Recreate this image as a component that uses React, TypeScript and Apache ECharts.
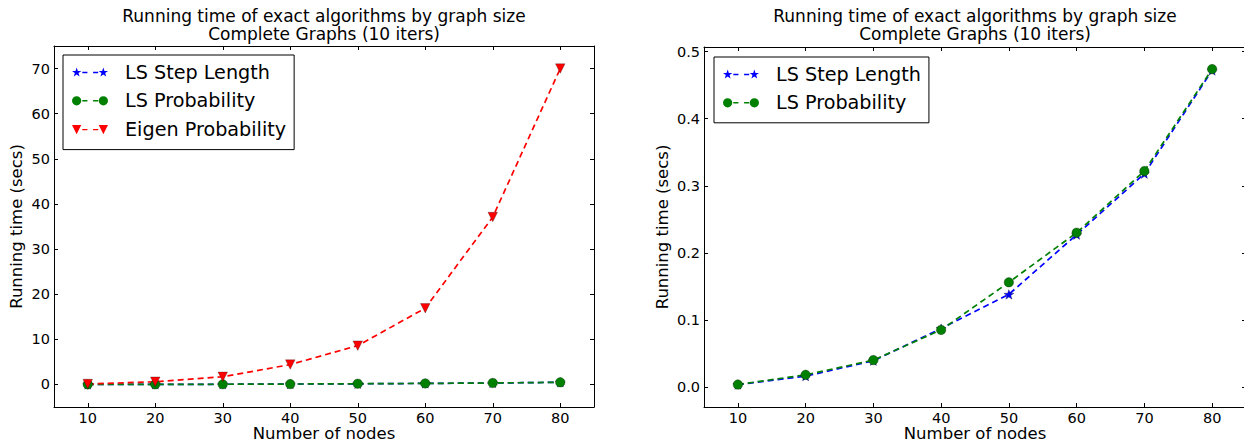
import { useEffect, useRef } from "react";
import * as echarts from "echarts";

const nodes = [10, 20, 30, 40, 50, 60, 70, 80];
const lsStepLength = [0.0035, 0.016, 0.039, 0.087, 0.138, 0.227, 0.318, 0.472];
const lsProbability = [0.0035, 0.018, 0.04, 0.085, 0.156, 0.23, 0.322, 0.474];
const eigenProbability = [0.1, 0.6, 1.7, 4.4, 8.6, 16.9, 37.1, 70.0];
const xTicks = [10, 20, 30, 40, 50, 60, 70, 80];
const leftYTicks = [0, 10, 20, 30, 40, 50, 60, 70];
const rightYTicks = [0, 0.1, 0.2, 0.3, 0.4, 0.5];
const seriesNames = ["LS Step Length", "LS Probability", "Eigen Probability"];
const titleText = "Running time of exact algorithms by graph size\nComplete Graphs (10 iters)";
const xName = "Number of nodes";
const yName = "Running time (secs)";

const FONT = "DejaVu Sans";
const BLUE = "#0000ff";
const GREEN = "#008000";
const RED = "#ff0000";

function starPath(cx: number, cy: number, R: number, r: number) {
  let d = "";
  for (let i = 0; i < 10; i++) {
    const a = ((-90 + i * 36) * Math.PI) / 180;
    const rad = i % 2 === 0 ? R : r;
    const x = cx + rad * Math.cos(a);
    const y = cy + rad * Math.sin(a);
    d += (i === 0 ? "M" : "L") + x.toFixed(3) + " " + y.toFixed(3) + " ";
  }
  return d + "Z ";
}
function circlePath(cx: number, cy: number, r: number) {
  return `M${cx - r} ${cy} A${r} ${r} 0 1 0 ${cx + r} ${cy} A${r} ${r} 0 1 0 ${cx - r} ${cy} Z `;
}
function triDownPath(cx: number, cy: number, s: number) {
  return `M${cx - s} ${cy - s} L${cx + s} ${cy - s} L${cx} ${cy + s} Z `;
}
const dashes = "M10.5 4.3 L15.5 4.3 L15.5 5.7 L10.5 5.7 Z M21 4.3 L26 4.3 L26 5.7 L21 5.7 Z ";

const starIcon = "path://" + starPath(5, 5, 4.8, 1.9) + dashes + starPath(31, 5, 4.8, 1.9);
const circleIcon = "path://" + circlePath(5, 5, 4.5) + dashes + circlePath(31, 5, 4.5);
const triIcon = "path://" + triDownPath(5, 5, 4.5) + dashes + triDownPath(31, 5, 4.5);

const starSymbol = "path://" + starPath(0, 0, 1, 0.4);
const triSymbol = "path://" + triDownPath(0, 0, 1);

const lineStyleAxis = { color: "#000", width: 1 };

function xAxes(gridIndex: number) {
  const common = {
    type: "value",
    gridIndex,
    min: 5,
    max: 85,
    splitLine: { show: false },
    axisLine: { show: true, onZero: false, lineStyle: lineStyleAxis },
    axisTick: { show: true, inside: true, length: 4, customValues: xTicks, lineStyle: lineStyleAxis },
  };
  return [
    {
      ...common,
      position: "bottom",
      name: xName,
      nameLocation: "middle",
      nameGap: 18,
      nameMoveOverlap: false,
      nameTextStyle: { fontSize: 16.5, lineHeight: 17, color: "#000", fontFamily: FONT },
      axisLabel: { show: true, customValues: xTicks, margin: 3, fontSize: 14.5, color: "#000", fontFamily: FONT },
    },
    { ...common, position: "top", axisLabel: { show: false } },
  ];
}

function yAxes(gridIndex: number, min: number, max: number, ticks: number[], gap: number, fmt: (v: number) => string) {
  const common = {
    type: "value",
    gridIndex,
    min,
    max,
    splitLine: { show: false },
    axisLine: { show: true, onZero: false, lineStyle: lineStyleAxis },
    axisTick: { show: true, inside: true, length: 4, customValues: ticks, lineStyle: lineStyleAxis },
  };
  return [
    {
      ...common,
      position: "left",
      name: yName,
      nameLocation: "middle",
      nameGap: gap,
      nameTextStyle: { fontSize: 16.5, color: "#000", fontFamily: FONT },
      axisLabel: {
        show: true,
        customValues: ticks,
        margin: 4,
        fontSize: 14.5,
        color: "#000",
        fontFamily: FONT,
        formatter: (v: number) => fmt(v),
      },
    },
    { ...common, position: "right", axisLabel: { show: false } },
  ];
}

function lineSeries(name: string, values: number[], color: string, symbol: string, size: number, axisIdx: number) {
  return {
    type: "line",
    name,
    xAxisIndex: axisIdx,
    yAxisIndex: axisIdx,
    data: nodes.map((x, i) => [x, values[i]]),
    symbol,
    symbolSize: size,
    symbolKeepAspect: true,
    showSymbol: true,
    showAllSymbol: true,
    lineStyle: { color, width: 1.7, type: [6, 4] },
    itemStyle: { color, borderColor: "rgba(0,0,0,0.55)", borderWidth: 0.5 },
    emphasis: { disabled: true },
  };
}

function legendCfg(left: number, top: number, items: { name: string; icon: string }[]) {
  return {
    orient: "vertical",
    left,
    top,
    padding: [6, 8, 9, 9],
    itemWidth: 36,
    itemHeight: 10,
    itemGap: 6.8,
    borderColor: "#000",
    borderWidth: 1,
    borderRadius: 0,
    backgroundColor: "#fff",
    selectedMode: false,
    itemStyle: { borderWidth: 0 },
    textStyle: { fontSize: 19.2, lineHeight: 22, color: "#000", fontFamily: FONT, padding: [0, 0, 0, 12] },
    data: items,
  };
}

export default function App() {
  const ref = useRef<HTMLDivElement>(null);
  useEffect(() => {
    if (!ref.current) return;
    const chart = echarts.init(ref.current, undefined, { renderer: "svg" });
    const titleStyle = { fontSize: 17, lineHeight: 18, fontWeight: "normal", color: "#000", fontFamily: FONT };
    chart.setOption({
      animation: false,
      backgroundColor: "#fff",
      textStyle: { fontFamily: FONT },
      title: [
        { text: titleText, left: 324, top: 7, padding: 0, textAlign: "center", textStyle: titleStyle },
        { text: titleText, left: 975, top: 7, padding: 0, textAlign: "center", textStyle: titleStyle },
      ],
      grid: [
        { left: 54, top: 46, width: 540, height: 361, outerBoundsMode: "none", containLabel: false },
        { left: 704, top: 47, width: 542, height: 360, outerBoundsMode: "none", containLabel: false },
      ],
      xAxis: [...xAxes(0), ...xAxes(1)],
      yAxis: [
        ...yAxes(0, -5, 75, leftYTicks, 29, (v) => String(v)),
        ...yAxes(1, -0.03, 0.507, rightYTicks, 33, (v) => v.toFixed(1)),
      ],
      legend: [
        legendCfg(63, 55, [
          { name: seriesNames[0], icon: starIcon },
          { name: seriesNames[1], icon: circleIcon },
          { name: seriesNames[2], icon: triIcon },
        ]),
        legendCfg(714, 57, [
          { name: seriesNames[0], icon: starIcon },
          { name: seriesNames[1], icon: circleIcon },
        ]),
      ],
      series: [
        lineSeries(seriesNames[0], lsStepLength, BLUE, starSymbol, 10, 0),
        lineSeries(seriesNames[1], lsProbability, GREEN, "circle", 9.5, 0),
        lineSeries(seriesNames[2], eigenProbability, RED, triSymbol, 9.5, 0),
        lineSeries(seriesNames[0], lsStepLength, BLUE, starSymbol, 10, 2),
        lineSeries(seriesNames[1], lsProbability, GREEN, "circle", 9.5, 2),
      ],
    });
    return () => chart.dispose();
  }, []);
  return <div ref={ref} style={{ position: "absolute", left: 0, top: 0, width: 1244, height: 444 }} />;
}
